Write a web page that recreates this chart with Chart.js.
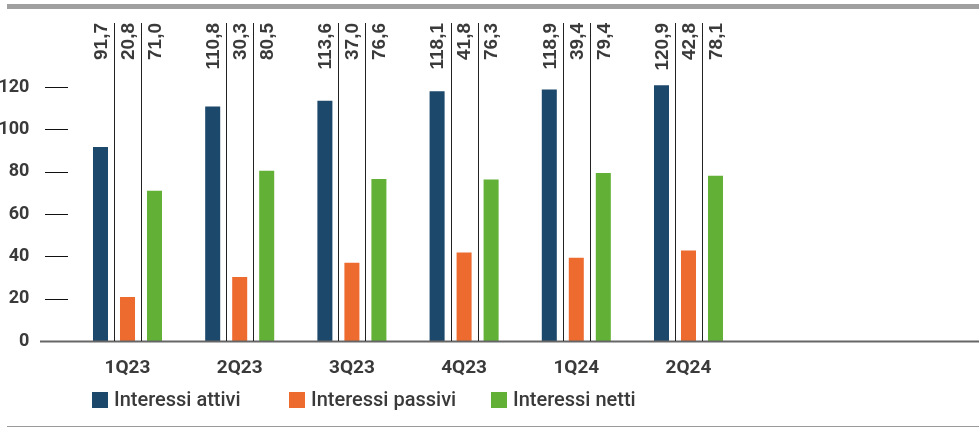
<!DOCTYPE html>
<html>
<head>
<meta charset="utf-8">
<script src="https://cdn.jsdelivr.net/npm/chart.js@4.4.1/dist/chart.umd.min.js"></script>
<style>
  html, body { margin: 0; padding: 0; background: #fff; }
  #wrap { width: 979px; height: 428px; position: relative; }
</style>
</head>
<body>
<div id="wrap"><canvas id="grafico"></canvas></div>
<script>
// dati (milioni)
const trimestri = ['1Q23', '2Q23', '3Q23', '4Q23', '1Q24', '2Q24'];
const interessiAttivi = [91.7, 110.8, 113.6, 118.1, 118.9, 120.9];
const interessiPassivi = [20.8, 30.3, 37.0, 41.8, 39.4, 42.8];
const interessiNetti = [71.0, 80.5, 76.6, 76.3, 79.4, 78.1];
const tickAsseY = [0, 20, 40, 60, 80, 100, 120];
const nomiSerie = ['Interessi attivi', 'Interessi passivi', 'Interessi netti'];

const blu = '#1c486b';
const arancio = '#ee6b30';
const verde = '#62b036';
const testo = '#3a3a3a';

function formatta(v) {
    return v.toFixed(1).replace('.', ',');
}

// disegna cornici, tacche, etichette ruotate, separatori e legenda
const decorazioni = {
    id: 'decorazioni',
    afterDraw(chart) {
        const ctx = chart.ctx;
        const y = chart.scales.y;
        const W = chart.width;
        ctx.save();

        // barra grigia in alto e linea in basso
        ctx.fillStyle = '#a0a0a0';
        ctx.fillRect(7, 4, W - 7, 5);
        ctx.fillStyle = '#9a9a9a';
        ctx.fillRect(7, 426, W - 7, 1);

        // tacche asse y
        ctx.strokeStyle = '#111';
        ctx.lineWidth = 1;
        tickAsseY.forEach(v => {
            if (v === 0) return;
            const py = Math.round(y.getPixelForValue(v)) + 0.5;
            ctx.beginPath();
            ctx.moveTo(45, py);
            ctx.lineTo(68, py);
            ctx.stroke();
        });

        // linea di base
        const base = y.getPixelForValue(0);
        ctx.fillStyle = '#666';
        ctx.fillRect(40, base - 0.5, W - 40, 2);

        // separatori e valori ruotati
        const metas = [0, 1, 2].map(i => chart.getDatasetMeta(i));
        const serie = [interessiAttivi, interessiPassivi, interessiNetti];
        ctx.strokeStyle = '#222';
        trimestri.forEach((t, i) => {
            const barre = metas.map(m => m.data[i]);
            for (let k = 0; k < 2; k++) {
                const a = barre[k], b = barre[k + 1];
                const sx = Math.round(((a.x + a.width / 2) + (b.x - b.width / 2)) / 2) + 0.5;
                ctx.beginPath();
                ctx.moveTo(sx, 23);
                ctx.lineTo(sx, base);
                ctx.stroke();
            }
            barre.forEach((bar, k) => {
                ctx.save();
                ctx.translate(bar.x + 1, 23);
                ctx.rotate(-Math.PI / 2);
                ctx.fillStyle = testo;
                ctx.font = 'bold 19px "Liberation Sans", Arial, sans-serif';
                ctx.textAlign = 'right';
                ctx.textBaseline = 'middle';
                ctx.fillText(formatta(serie[k][i]), 0, 0);
                ctx.restore();
            });
        });

        // legenda
        const colori = [blu, arancio, verde];
        const posX = [92, 289, 491];
        ctx.font = '500 20px Roboto, sans-serif';
        ctx.textAlign = 'left';
        ctx.textBaseline = 'middle';
        nomiSerie.forEach((n, k) => {
            ctx.fillStyle = colori[k];
            ctx.fillRect(posX[k], 392, 16, 16);
            ctx.fillStyle = testo;
            ctx.fillText(n, posX[k] + 22, 401);
        });

        ctx.restore();
    }
};

const ctx = document.getElementById('grafico').getContext('2d');
const grafico = new Chart(ctx, {
    type: 'bar',
    data: {
        // due categorie vuote per lasciare lo spazio a destra
        labels: trimestri.concat(['', '']),
        datasets: [
            { label: nomiSerie[0], data: interessiAttivi, backgroundColor: blu },
            { label: nomiSerie[1], data: interessiPassivi, backgroundColor: arancio },
            { label: nomiSerie[2], data: interessiNetti, backgroundColor: verde }
        ]
    },
    options: {
        responsive: true,
        maintainAspectRatio: false,
        animation: false,
        layout: {
            padding: { top: 42, right: 10, left: 0, bottom: 0 }
        },
        datasets: {
            bar: {
                categoryPercentage: 0.722,
                barPercentage: 0.556
            }
        },
        scales: {
            x: {
                afterFit: s => { s.height = 87; },
                grid: { display: false },
                border: { display: false },
                ticks: {
                    color: testo,
                    padding: 8,
                    font: { family: 'Roboto', size: 19, weight: 'bold' }
                }
            },
            y: {
                min: 0,
                max: 140,
                afterFit: s => { s.width = 71.4; },
                afterBuildTicks: s => { s.ticks = tickAsseY.map(v => ({ value: v })); },
                grid: { display: false },
                border: { display: false },
                ticks: {
                    color: testo,
                    padding: 34,
                    font: { family: 'Roboto', size: 18, weight: 'bold' }
                }
            }
        },
        plugins: {
            legend: { display: false },
            tooltip: { enabled: false }
        }
    },
    plugins: [decorazioni]
});
</script>
</body>
</html>
